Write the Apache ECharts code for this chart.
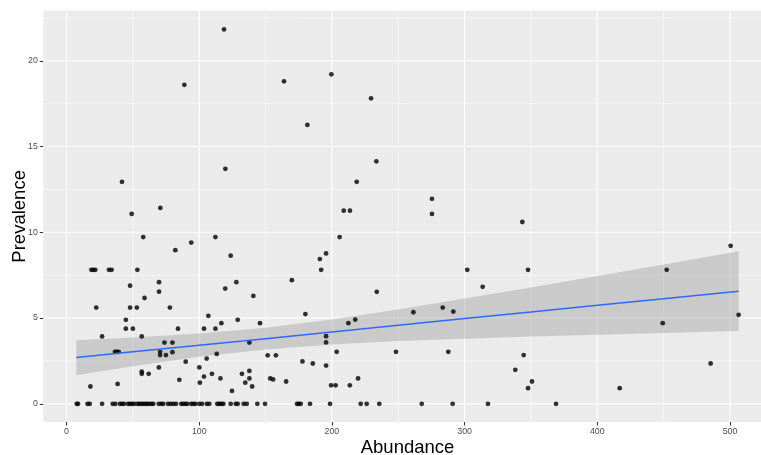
<!DOCTYPE html>
<html>
<head>
<meta charset="utf-8">
<script src="https://cdn.jsdelivr.net/npm/echarts@6/dist/echarts.min.js"></script>
<style>
html,body{margin:0;padding:0;background:#fff;}
#chart{width:761px;height:455px;}
</style>
</head>
<body>
<div id="chart"></div>
<script>
// ---- data ----
const abundance = [
  118.7, 88.8, 119.7, 41.8, 49.1, 70.7, 163.9, 199.6, 229.5, 181.5, 233.5, 218.7, 208.9, 213.6, 275.4, 275.4, 343.5,
  205.8, 112.2, 57.8, 94.0, 82.0, 500.5, 195.6, 190.9, 123.7,
  18.7, 20.2, 21.7, 32.0, 34.0, 53.4, 191.9, 302.0, 347.8, 452.3,
  69.7, 128.0, 169.8, 47.9, 313.6, 119.6, 69.7, 233.8, 140.8, 58.8,
  22.4, 47.9, 53.0, 77.9, 283.5, 291.5, 261.4, 180.0, 506.5, 106.9,
  44.7, 129.0, 217.6, 116.7, 145.8, 212.4, 449.3,
  44.7, 50.0, 84.0, 103.6, 112.2, 26.8, 56.7, 195.6,
  73.8, 79.8, 137.8, 195.6,
  36.5, 37.8, 39.3, 70.5, 79.8, 203.6, 248.3, 287.7, 113.2,
  70.5, 74.9, 151.6, 157.8, 344.5, 105.6, 89.8, 177.8, 185.6, 485.4, 195.6,
  69.6, 100.1, 338.2, 137.8, 56.7, 56.7, 61.9, 109.6, 132.2, 103.6,
  116.0, 137.8, 153.5, 219.7, 155.7, 85.0, 165.5, 350.8, 100.5, 134.7, 38.5,
  199.4, 202.8, 213.5, 18.0, 139.9, 347.8, 416.9, 124.7,
  // zero prevalence
  7.7, 8.7, 15.8, 17.5, 26.8, 34.8, 36.8, 40.3, 41.8, 43.3, 46.3, 47.8, 49.3, 50.9, 53.4, 54.9, 56.4, 57.9,
  59.4, 60.9, 62.4, 64.2, 65.4, 69.5, 71.4, 72.9, 76.5, 78.5, 80.5, 82.5, 86.5, 88.0, 89.5, 91.0, 94.0, 95.6,
  97.1, 100.1, 102.1, 105.7, 107.6, 113.6, 115.1, 116.7, 118.2, 123.7, 127.5, 129.0, 133.5, 135.8, 143.8, 149.6,
  173.7, 175.0, 176.5, 183.5, 198.6, 221.7, 226.2, 235.7, 267.7, 291.0, 317.6, 368.9
];
const prevalence = [
  21.83, 18.6, 13.7, 12.94, 11.07, 11.42, 18.8, 19.21, 17.81, 16.26, 14.14, 12.94, 11.26, 11.26, 11.95, 11.07, 10.6,
  9.72, 9.72, 9.72, 9.40, 8.96, 9.21, 8.77, 8.44, 8.64,
  7.81, 7.81, 7.81, 7.81, 7.81, 7.81, 7.81, 7.81, 7.81, 7.81,
  7.09, 7.09, 7.21, 6.89, 6.82, 6.72, 6.54, 6.53, 6.29, 6.17,
  5.61, 5.61, 5.61, 5.61, 5.61, 5.38, 5.34, 5.23, 5.19, 5.13,
  4.90, 4.90, 4.91, 4.70, 4.70, 4.70, 4.70,
  4.38, 4.38, 4.38, 4.38, 4.38, 3.93, 3.93, 3.94,
  3.57, 3.57, 3.57, 3.58,
  3.03, 3.03, 3.03, 3.03, 3.01, 3.03, 3.03, 3.03, 2.91,
  2.84, 2.84, 2.83, 2.83, 2.84, 2.64, 2.46, 2.47, 2.35, 2.35, 2.23,
  2.12, 2.12, 1.98, 1.92, 1.88, 1.75, 1.75, 1.75, 1.75, 1.59,
  1.48, 1.48, 1.48, 1.48, 1.42, 1.40, 1.30, 1.30, 1.23, 1.23, 1.16,
  1.08, 1.08, 1.08, 1.01, 1.01, 0.91, 0.91, 0.75,
  0, 0, 0, 0, 0, 0, 0, 0, 0, 0, 0, 0, 0, 0, 0, 0, 0, 0,
  0, 0, 0, 0, 0, 0, 0, 0, 0, 0, 0, 0, 0, 0, 0, 0, 0, 0,
  0, 0, 0, 0, 0, 0, 0, 0, 0, 0, 0, 0, 0, 0, 0, 0, 0, 0,
  0, 0, 0, 0, 0, 0, 0, 0, 0, 0, 0, 0, 0, 0, 0, 0, 0, 0, 0, 0, 0, 0, 0, 0, 0, 0, 0, 0
];
// fitted line and confidence band, read at several abundance values
const fitX     = [7.4, 50, 100, 150, 200, 250, 300, 350, 400, 450, 506.5];
const fitY     = [2.70, 3.03, 3.42, 3.80, 4.19, 4.58, 4.97, 5.35, 5.74, 6.13, 6.57];
const bandHigh = [3.70, 3.87, 4.10, 4.44, 4.92, 5.50, 6.14, 6.78, 7.45, 8.13, 8.90];
const bandLow  = [1.67, 2.19, 2.74, 3.16, 3.46, 3.66, 3.80, 3.92, 4.03, 4.13, 4.24];
// axes
const xTickValues = [0, 100, 200, 300, 400, 500];
const xMinorValues = [50, 150, 250, 350, 450];
const yTickValues = [0, 5, 10, 15, 20];
const yMinorValues = [2.5, 7.5, 12.5, 17.5, 22.5];
const xTitle = 'Abundance';
const yTitle = 'Prevalence';

const FONT = '"Liberation Sans", Arial, sans-serif';
const chart = echarts.init(document.getElementById('chart'), null, {renderer: 'canvas'});

const nObs = Math.min(abundance.length, prevalence.length);
const pts = abundance.slice(0, nObs).map((x, i) => [x, prevalence[i]]);

function gridLines(values, horizontal, width) {
  return {
    type: 'custom',
    silent: true,
    z: 1,
    data: values.map(v => horizontal ? [0, v] : [v, 0]),
    encode: {x: 0, y: 1},
    renderItem: function (params, api) {
      const cs = params.coordSys;
      const p = api.coord([api.value(0), api.value(1)]);
      let shape;
      if (horizontal) shape = {x1: cs.x, y1: p[1], x2: cs.x + cs.width, y2: p[1]};
      else shape = {x1: p[0], y1: cs.y, x2: p[0], y2: cs.y + cs.height};
      return {type: 'line', shape: shape, style: {stroke: '#ffffff', lineWidth: width}};
    }
  };
}

const option = {
  animation: false,
  backgroundColor: '#ffffff',
  grid: {
    left: 43.3, top: 10.7, right: -10.8, bottom: 33,
    containLabel: false, outerBoundsMode: 'none',
    show: true, backgroundColor: '#EBEBEB', borderWidth: 0
  },
  xAxis: {
    type: 'value', min: -17.5, max: 531.5,
    name: xTitle, nameLocation: 'middle', nameGap: 16, nameMoveOverlap: false,
    nameTextStyle: {fontFamily: FONT, fontSize: 18.5, color: '#000000'},
    axisLine: {show: false, onZero: false},
    axisTick: {show: true, customValues: xTickValues, length: 3.5, lineStyle: {color: '#333333', width: 1}},
    axisLabel: {customValues: xTickValues, fontFamily: FONT, fontSize: 8.8, color: '#4D4D4D', margin: 5},
    splitLine: {show: false}
  },
  yAxis: {
    type: 'value', min: -1.06, max: 22.92,
    name: yTitle, nameLocation: 'middle', nameGap: 14, nameMoveOverlap: false,
    nameTextStyle: {fontFamily: FONT, fontSize: 18.5, color: '#000000'},
    axisLine: {show: false, onZero: false},
    axisTick: {show: true, customValues: yTickValues, length: 3.5, lineStyle: {color: '#333333', width: 1}},
    axisLabel: {customValues: yTickValues, fontFamily: FONT, fontSize: 8.8, color: '#4D4D4D', margin: 5.5},
    splitLine: {show: false}
  },
  series: [
    gridLines(yMinorValues, true, 0.55),
    gridLines(xMinorValues, false, 0.55),
    gridLines(yTickValues, true, 1.1),
    gridLines(xTickValues, false, 1.1),
    {
      type: 'custom',
      silent: true,
      z: 2,
      data: fitX.map((x, i) => [x, bandHigh[i], bandLow[i]]),
      encode: {x: 0, y: [1, 2]},
      renderItem: function (params, api) {
        if (params.dataIndex !== 0) return;
        const up = fitX.map((x, i) => api.coord([x, bandHigh[i]]));
        const lo = fitX.map((x, i) => api.coord([x, bandLow[i]])).reverse();
        return {type: 'polygon', shape: {points: up.concat(lo)}, style: {fill: 'rgba(153,153,153,0.4)'}};
      }
    },
    {
      type: 'scatter',
      z: 3,
      data: pts,
      symbol: 'circle',
      symbolSize: 4.8,
      itemStyle: {color: '#000000'},
      silent: true
    },
    {
      type: 'line',
      z: 4,
      data: fitX.map((x, i) => [x, fitY[i]]),
      showSymbol: false,
      smooth: false,
      lineStyle: {color: '#3366FF', width: 1.5},
      silent: true
    }
  ]
};
chart.setOption(option);
</script>
</body>
</html>
